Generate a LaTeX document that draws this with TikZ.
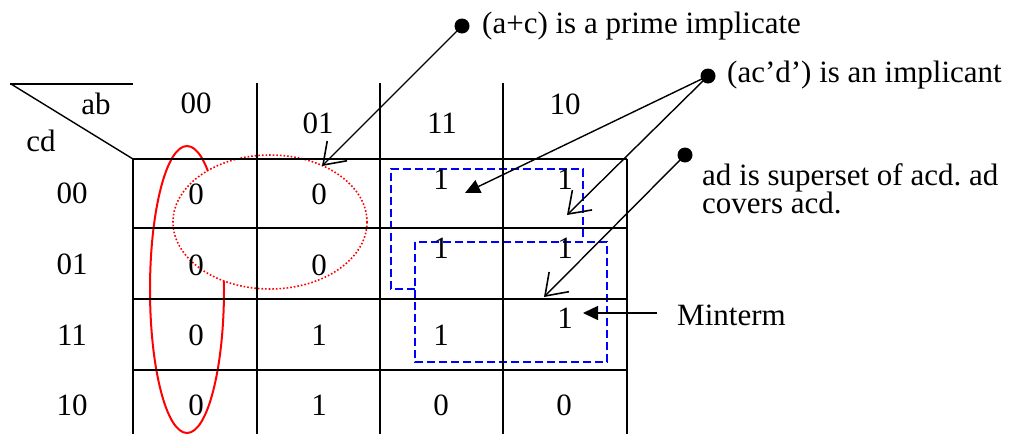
\documentclass[tikz,border=0pt]{standalone}
\usepackage{fontspec}
\setmainfont{Liberation Serif}
\usetikzlibrary{arrows.meta}
\frenchspacing
\begin{document}
\begin{tikzpicture}[x=1pt,y=-1pt,
  txt/.style={anchor=base,inner sep=0pt,font=\fontsize{31pt}{34pt}\selectfont},
  ltxt/.style={anchor=base west,inner sep=0pt,font=\fontsize{31pt}{34pt}\selectfont},
  gridline/.style={line width=2.4pt},
  thinline/.style={line width=1.4pt},
  dotnode/.style={circle,fill=black,inner sep=0pt,minimum size=15pt},
  barb/.style={thinline,-{Straight Barb[length=20pt,width=28pt,line width=1.6pt]}},
  tri/.style={thinline,-{Triangle[length=15pt,width=14pt]}},
  group/.style={blue,line width=2pt,dash pattern=on 8pt off 4pt},
]
\useasboundingbox (0,0) rectangle (1031,434);
% groupings
\draw[red,line width=2pt] (187,289.5) ellipse [x radius=37,y radius=143.5];
\draw[red,line width=1.6pt,dotted,fill=white] (270,222) ellipse [x radius=97,y radius=67];
\draw[group] (415,289) -- (391,289) -- (391,169) -- (583,169) -- (583,238);
\draw[group] (415,242) rectangle (607,362);
% grid
\draw[gridline] (10,84) -- (133,84);
\draw[thinline] (11,84) -- (133,159);
\draw[gridline] (133,159) -- (133,434);
\draw[gridline] (257,83) -- (257,434);
\draw[gridline] (380,83) -- (380,434);
\draw[gridline] (503,83) -- (503,434);
\draw[gridline] (627,159) -- (627,434);
\foreach \yy in {159,228,299,370} \draw[gridline] (133,\yy) -- (627,\yy);
% headers
\node[txt] (ab) at (96,114) {ab};
\node[txt] (cd) at (41,151) {cd};
\node[txt] (h1) at (196,113) {00};
\node[txt] (h2) at (318,133) {01};
\node[txt] (h3) at (442,133) {11};
\node[txt] (h4) at (565,114) {10};
\node[txt] (r1) at (72,203) {00};
\node[txt] (r2) at (72,274) {01};
\node[txt] (r3) at (72,345) {11};
\node[txt] (r4) at (72,415) {10};
% cells
\node[txt] (c11) at (196,204) {0};
\node[txt] (c12) at (319,204) {0};
\node[txt] (c13) at (441,189) {1};
\node[txt] (c14) at (565,189) {1};
\node[txt] (c21) at (196,275) {0};
\node[txt] (c22) at (319,275) {0};
\node[txt] (c23) at (441,258) {1};
\node[txt] (c24) at (565,258) {1};
\node[txt] (c31) at (196,345) {0};
\node[txt] (c32) at (319,345) {1};
\node[txt] (c33) at (441,345) {1};
\node[txt] (c34) at (565,328) {1};
\node[txt] (c41) at (196,415) {0};
\node[txt] (c42) at (319,415) {1};
\node[txt] (c43) at (441,415) {0};
\node[txt] (c44) at (564,415) {0};
% annotations
\node[dotnode] (d1) at (462,26) {};
\node[ltxt] (l1) at (482,33) {(a+c) is a prime implicate};
\node[dotnode] (d2) at (708,76) {};
\node[ltxt] (l2) at (727,82) {(ac’d’) is an implicant};
\node[dotnode] (d3) at (685,155) {};
\node[ltxt] (l3) at (702,185) {ad is superset of acd. ad};
\node[ltxt] (l3b) at (702,213) {covers acd.};
\node[ltxt] (l4) at (677,325) {Minterm};
\coordinate (t1) at (322,166);
\coordinate (t2) at (465,193);
\coordinate (t3) at (567,215);
\coordinate (t4) at (544,297);
\coordinate (m0) at (657,313);
\coordinate (t5) at (583,313);
\draw[barb] (d1.center) -- (t1);
\draw[tri] (d2.center) -- (t2);
\draw[barb] (d2.center) -- (t3);
\draw[barb] (d3.center) -- (t4);
\draw[tri] (m0) -- (t5);
\end{tikzpicture}
\end{document}
